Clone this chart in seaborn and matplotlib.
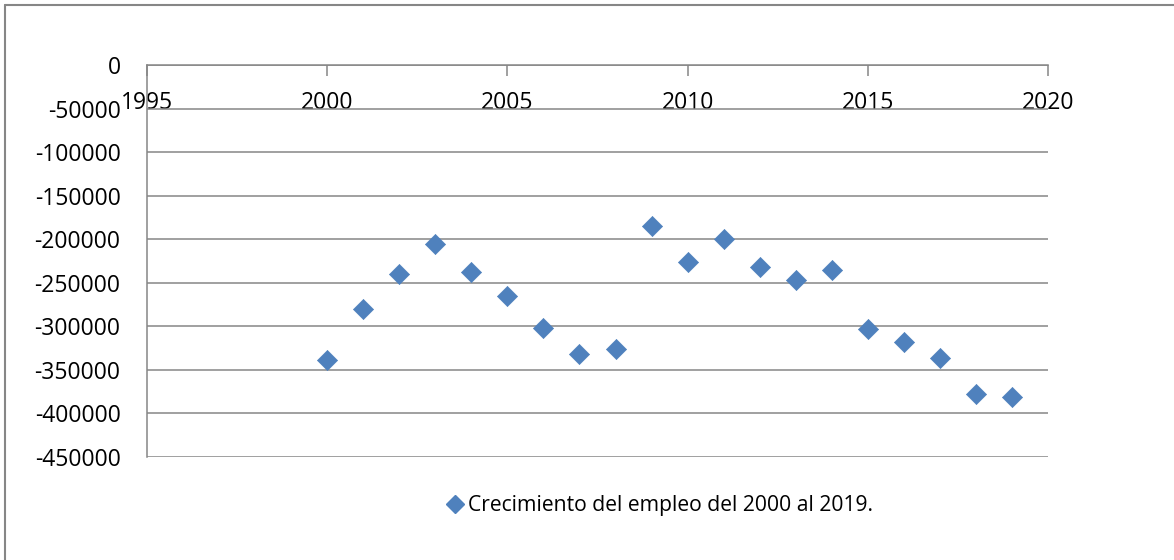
import numpy as np
import pandas as pd
import seaborn as sns
from matplotlib import pyplot as plt
from matplotlib.lines import Line2D

# data
years = [2000, 2001, 2002, 2003, 2004, 2005, 2006, 2007, 2008, 2009,
         2010, 2011, 2012, 2013, 2014, 2015, 2016, 2017, 2018, 2019]
growth = [-339000, -280000, -240000, -205000, -238000, -265000, -302000, -332000, -326000, -185000,
          -226000, -200000, -232000, -247000, -235000, -303000, -318000, -336000, -378000, -381000]
label = "Crecimiento del empleo del 2000 al 2019."

df = pd.DataFrame({"year": years, "growth": growth})

sns.set_style("white")
plt.rcParams['font.family'] = ['Open Sans', 'DejaVu Sans']
plt.rcParams['text.color'] = 'black'
plt.rcParams['xtick.labelcolor'] = 'black'
plt.rcParams['ytick.labelcolor'] = 'black'
grey = "#868686"
blue = "#4F81BD"

fig = plt.figure(figsize=(11.74, 5.6), dpi=100)
ax = fig.add_axes([147/1174, 1 - 457/560, (1048 - 147)/1174, (457 - 65)/560])

sns.scatterplot(data=df, x="year", y="growth", marker="D", s=105, color=blue,
                edgecolor=blue, linewidth=0.5, ax=ax, legend=False, zorder=3)

ax.set_xlim(1995, 2020)
ax.set_ylim(-450000, 0)
ax.set_xticks(np.arange(1995, 2021, 5))
ax.set_yticks(np.arange(-450000, 1, 50000))
ax.set_yticklabels([str(v) for v in np.arange(-450000, 1, 50000)])
ax.set_xlabel("")
ax.set_ylabel("")

ax.grid(axis="y", color=grey, linewidth=1.1)
ax.grid(axis="x", visible=False)
for side in ["right", "bottom"]:
    ax.spines[side].set_visible(False)
ax.spines["left"].set_color(grey)
ax.spines["left"].set_linewidth(1.1)
ax.spines["top"].set_color(grey)
ax.spines["top"].set_linewidth(1.1)

# x axis sits at y=0 (top), labels below the line
ax.xaxis.set_ticks_position("top")
ax.xaxis.set_label_position("top")
ax.tick_params(axis="x", which="major", direction="in", length=8, width=1.1, color=grey,
               labeltop=True, labelbottom=False, pad=-36, labelsize=16.5)
ax.tick_params(axis="y", direction="out", length=8, width=1.1, color=grey, pad=11,
               labelsize=16.5)

handle = Line2D([], [], marker="D", linestyle="none", color=blue, markersize=9)
fig.legend([handle], [label], loc="center left", bbox_to_anchor=(430/1174, 1 - 506/560),
           frameon=False, fontsize=15.2, handlelength=0.6, handletextpad=0.3)

# chart area border (only top and left visible)
fig.add_artist(Line2D([5/1174, 1], [1 - 5/560, 1 - 5/560], color=grey, linewidth=1.5))
fig.add_artist(Line2D([5/1174, 5/1174], [0, 1 - 5/560], color=grey, linewidth=1.5))

fig.savefig("out.png", dpi=100)
